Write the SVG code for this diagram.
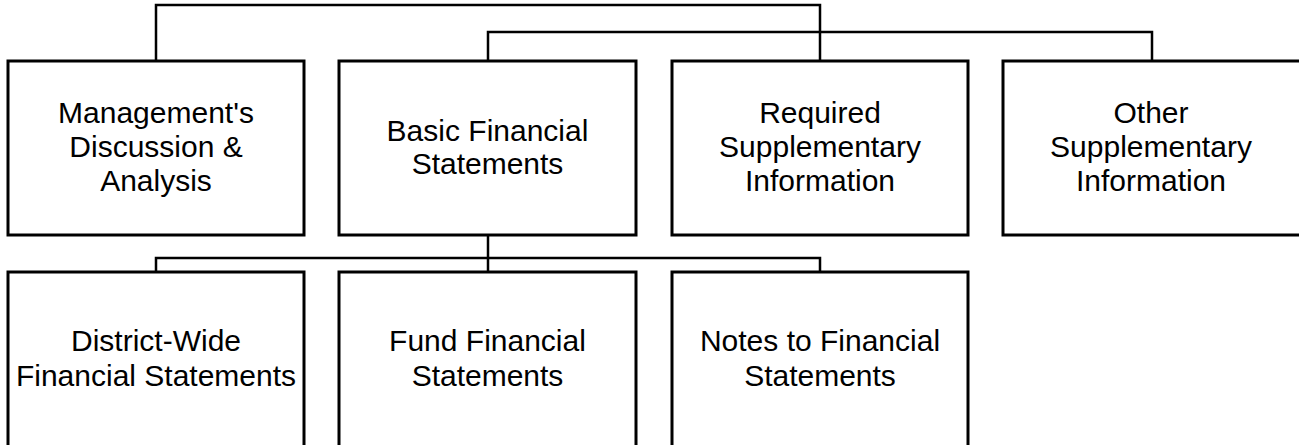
<svg xmlns="http://www.w3.org/2000/svg" width="1299" height="445" viewBox="0 0 1299 445">
  <style>
    .box { fill: #ffffff; stroke: #000000; stroke-width: 3; }
    .wire { fill: none; stroke: #000000; stroke-width: 2.5; }
    .lbl { font-family: "Liberation Sans", Arial, sans-serif; font-size: 30px; fill: #000000; text-anchor: middle; }
  </style>
  <rect width="1299" height="445" fill="#ffffff"/>

  <!-- connectors -->
  <g id="connectors">
    <polyline class="wire" points="156,61 156,5 820,5 820,61"/>
    <polyline class="wire" points="488,61 488,32 1152,32 1152,61"/>
    <line class="wire" x1="488" y1="235" x2="488" y2="272"/>
    <polyline class="wire" points="156,272 156,258 820,258 820,272"/>
  </g>

  <!-- top row -->
  <g id="mda">
    <rect class="box" x="8" y="61" width="296" height="174"/>
    <text class="lbl" x="156" y="123">Management's</text>
    <text class="lbl" x="156" y="157">Discussion &amp;</text>
    <text class="lbl" x="156" y="191">Analysis</text>
  </g>
  <g id="basic">
    <rect class="box" x="339" y="61" width="297" height="174"/>
    <text class="lbl" x="487.5" y="141">Basic Financial</text>
    <text class="lbl" x="487.5" y="174">Statements</text>
  </g>
  <g id="rsi">
    <rect class="box" x="672" y="61" width="296" height="174"/>
    <text class="lbl" x="820" y="123">Required</text>
    <text class="lbl" x="820" y="157">Supplementary</text>
    <text class="lbl" x="820" y="191">Information</text>
  </g>
  <g id="osi">
    <rect class="box" x="1003" y="61" width="300" height="174"/>
    <text class="lbl" x="1151" y="123">Other</text>
    <text class="lbl" x="1151" y="157">Supplementary</text>
    <text class="lbl" x="1151" y="191">Information</text>
  </g>

  <!-- bottom row -->
  <g id="district">
    <rect class="box" x="8" y="272" width="296" height="200"/>
    <text class="lbl" x="156" y="351">District-Wide</text>
    <text class="lbl" x="156" y="386">Financial Statements</text>
  </g>
  <g id="fund">
    <rect class="box" x="339" y="272" width="297" height="200"/>
    <text class="lbl" x="487.5" y="351">Fund Financial</text>
    <text class="lbl" x="487.5" y="386">Statements</text>
  </g>
  <g id="notes">
    <rect class="box" x="672" y="272" width="296" height="200"/>
    <text class="lbl" x="820" y="351">Notes to Financial</text>
    <text class="lbl" x="820" y="386">Statements</text>
  </g>
</svg>
